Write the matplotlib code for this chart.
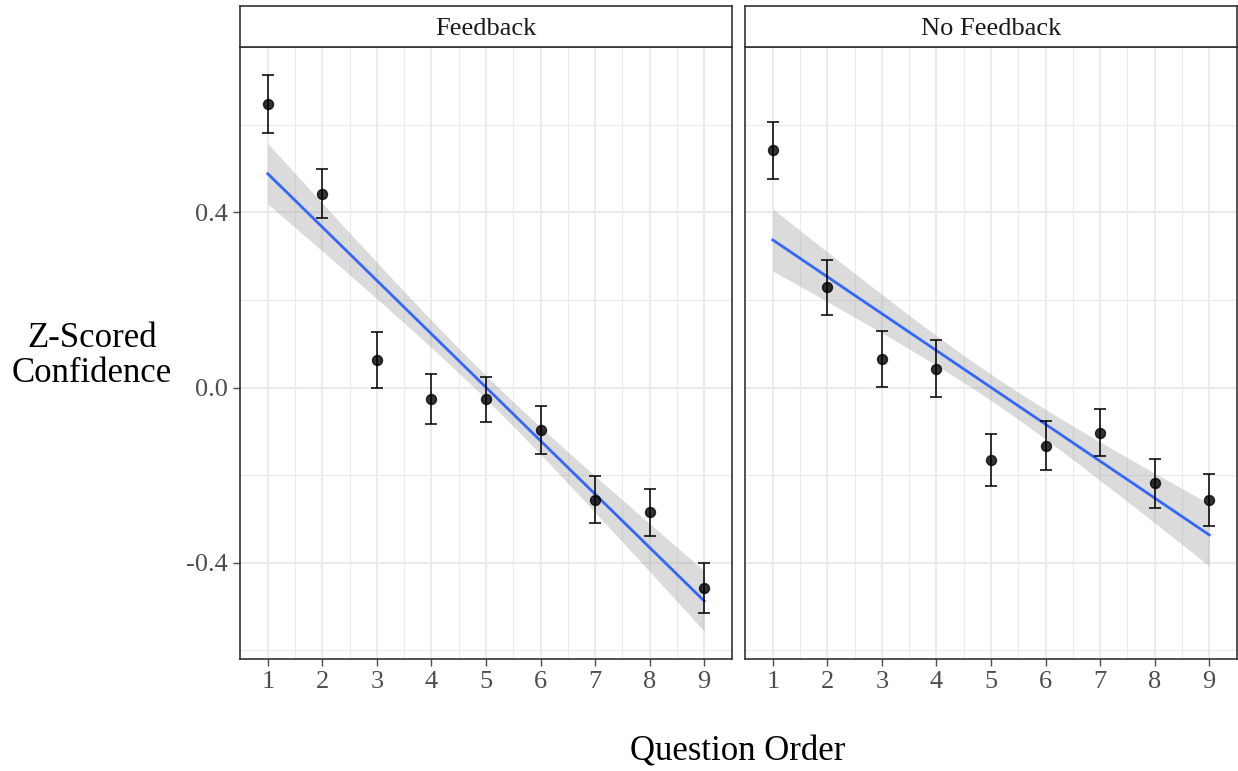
import numpy as np
import matplotlib
matplotlib.use("Agg")
import matplotlib.pyplot as plt

plt.rcParams['font.family'] = ['Liberation Serif', 'DejaVu Serif']
plt.rcParams['axes.unicode_minus'] = False

# mean z-scored confidence per question position, with standard errors
question = [1, 2, 3, 4, 5, 6, 7, 8, 9]
panels = ["Feedback", "No Feedback"]

fb_mean = [0.648, 0.443, 0.062, -0.026, -0.027, -0.097, -0.256, -0.285, -0.458]
fb_se = [0.066, 0.057, 0.064, 0.058, 0.052, 0.054, 0.053, 0.053, 0.057]

nofb_mean = [0.542, 0.229, 0.066, 0.043, -0.166, -0.133, -0.103, -0.219, -0.256]
nofb_se = [0.065, 0.063, 0.064, 0.065, 0.059, 0.056, 0.054, 0.057, 0.059]

# half-width of the fit's confidence band at the centre and at the ends
band_mid = [0.027, 0.030]
band_end = [0.069, 0.071]

yticks = [-0.4, 0.0, 0.4]
ytick_labels = ["-0.4", "0.0", "0.4"]

means = [np.array(fb_mean), np.array(nofb_mean)]
ses = [np.array(fb_se), np.array(nofb_se)]
x = np.array(question, dtype=float)

# linear fit for each panel
xs = np.linspace(x.min(), x.max(), 200)
fits = []
for k in range(2):
    slope, icpt = np.polyfit(x, means[k], 1)
    yhat = icpt + slope * xs
    xc = (x.min() + x.max()) / 2
    half = (x.max() - x.min()) / 2
    hw = np.sqrt(band_mid[k]**2 + (band_end[k]**2 - band_mid[k]**2) * ((xs - xc) / half)**2)
    fits.append((yhat, hw))

# shared y range, padded by 5% like ggplot
lo = min(min((means[k] - ses[k]).min(), (fits[k][0] - fits[k][1]).min()) for k in range(2))
hi = max(max((means[k] + ses[k]).max(), (fits[k][0] + fits[k][1]).max()) for k in range(2))
pad = (hi - lo) * 0.05
ylim = (lo - pad, hi + pad)
xlo, xhi = x.min() - 0.1, x.max() + 0.1
xpad = (xhi - xlo) * 0.05
xlim = (xlo - xpad, xhi + xpad)

W, H = 1238, 771
fig = plt.figure(figsize=(W / 100, H / 100), dpi=100)

grid_col = "#EBEBEB"
border_col = "#333333"
tick_col = "#4D4D4D"

lefts = [240, 745]
pw = 492
ptop, pbot = 47, 659
strip_top = 6

for k in range(2):
    ax = fig.add_axes([lefts[k] / W, 1 - pbot / H, pw / W, (pbot - ptop) / H])
    ax.set_xlim(*xlim)
    ax.set_ylim(*ylim)

    ax.set_xticks(question)
    ax.set_xticks(np.arange(1.5, 9.0, 1.0), minor=True)
    ax.set_yticks(yticks)
    ax.set_yticks([-0.6, -0.2, 0.2, 0.6], minor=True)
    ax.grid(which="major", color=grid_col, lw=1.5, zorder=0)
    ax.grid(which="minor", color=grid_col, lw=0.8, zorder=0)
    ax.set_axisbelow(True)

    ax.tick_params(which="minor", length=0)
    ax.tick_params(which="major", length=5, width=1.0, color=tick_col,
                   labelcolor=tick_col, labelsize=19, pad=4)
    ax.set_xticklabels([str(q) for q in question])
    if k == 0:
        ax.set_yticklabels(ytick_labels)
    else:
        ax.tick_params(axis="y", which="both", left=False, labelleft=False)

    for sp in ax.spines.values():
        sp.set_color(border_col)
        sp.set_linewidth(1.2)

    yhat, hw = fits[k]
    ax.fill_between(xs, yhat - hw, yhat + hw, color="#999999", alpha=0.35,
                    lw=0, zorder=2)
    ax.plot(xs, yhat, color="#3366FF", lw=2.0, zorder=3)
    ax.errorbar(x, means[k], yerr=ses[k], fmt="o", color="black", ms=7.2,
                ecolor="black", elinewidth=1.4, capsize=4.2, capthick=1.4,
                alpha=0.8, zorder=4)

    # facet strip
    sax = fig.add_axes([lefts[k] / W, 1 - ptop / H, pw / W, (ptop - strip_top) / H])
    sax.set_xticks([])
    sax.set_yticks([])
    sax.set_facecolor("white")
    for sp in sax.spines.values():
        sp.set_color(border_col)
        sp.set_linewidth(1.2)
    sax.text(0.5, 0.45, panels[k], ha="center", va="center", fontsize=19,
             color="#1A1A1A", transform=sax.transAxes)

fig.text(92 / W, 1 - 356 / H, "Z-Scored\nConfidence", ha="center", va="center",
         fontsize=25, linespacing=1.1)
fig.text(738 / W, 1 - 761 / H, "Question Order", ha="center", va="baseline",
         fontsize=25)

fig.savefig("out.png", dpi=100)
